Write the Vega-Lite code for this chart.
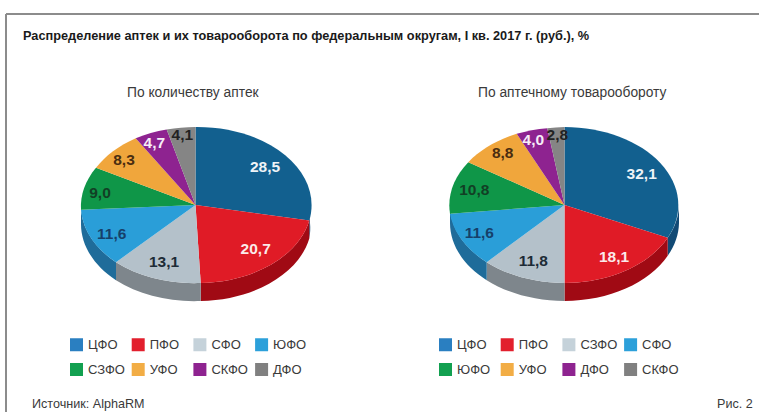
{
  "$schema": "https://vega.github.io/schema/vega-lite/v6.json",
  "width": 759,
  "height": 412,
  "padding": 0,
  "autosize": {"type": "fit", "contains": "padding"},
  "background": "#ffffff",
  "config": {
    "view": {"stroke": null},
    "font": "Liberation Sans",
    "locale": {"number": {"decimal": ",", "thousands": " ", "grouping": [3], "currency": ["", " ₽"]}},
    "legend": {"orient": "none", "title": null, "columns": 4, "direction": "horizontal", "gridAlign": "all", "symbolType": "square", "symbolSize": 169, "symbolStrokeWidth": 0, "symbolOpacity": 1, "labelFont": "Liberation Sans", "labelFontSize": 13, "labelColor": "#3a3a3a", "labelOffset": 5, "columnPadding": 6.7, "rowPadding": 11, "padding": 0, "labelLimit": 60}
  },
  "datasets": {
    "shares": [
      {"panel": "По количеству аптек", "n": 1, "district": "ЦФО", "share": 28.5},
      {"panel": "По количеству аптек", "n": 2, "district": "ПФО", "share": 20.7},
      {"panel": "По количеству аптек", "n": 3, "district": "СФО", "share": 13.1},
      {"panel": "По количеству аптек", "n": 4, "district": "ЮФО", "share": 11.6},
      {"panel": "По количеству аптек", "n": 5, "district": "СЗФО", "share": 9.0},
      {"panel": "По количеству аптек", "n": 6, "district": "УФО", "share": 8.3},
      {"panel": "По количеству аптек", "n": 7, "district": "СКФО", "share": 4.7},
      {"panel": "По количеству аптек", "n": 8, "district": "ДФО", "share": 4.1},
      {"panel": "По аптечному товарообороту", "n": 9, "district": "ЦФО", "share": 32.1},
      {"panel": "По аптечному товарообороту", "n": 10, "district": "ПФО", "share": 18.1},
      {"panel": "По аптечному товарообороту", "n": 11, "district": "СЗФО", "share": 11.8},
      {"panel": "По аптечному товарообороту", "n": 12, "district": "СФО", "share": 11.6},
      {"panel": "По аптечному товарообороту", "n": 13, "district": "ЮФО", "share": 10.8},
      {"panel": "По аптечному товарообороту", "n": 14, "district": "УФО", "share": 8.8},
      {"panel": "По аптечному товарообороту", "n": 15, "district": "ДФО", "share": 4.0},
      {"panel": "По аптечному товарообороту", "n": 16, "district": "СКФО", "share": 2.8}
    ],
    "notes": [
      {"n": 1, "text": "Распределение аптек и их товарооборота по федеральным округам, I кв. 2017 г. (руб.), %"},
      {"n": 2, "text": "По количеству аптек"},
      {"n": 3, "text": "По аптечному товарообороту"},
      {"n": 4, "text": "Источник: AlphaRM"},
      {"n": 5, "text": "Рис. 2"}
    ]
  },
  "resolve": {"scale": {"x": "independent", "y": "independent", "color": "independent", "shape": "independent", "size": "independent"}},
  "layer": [
    {
      "data": {"values": [{"edge": "top"}]},
      "mark": {"type": "rule", "stroke": "#8c8c8c", "strokeWidth": 2},
      "encoding": {
        "x": {"datum": 6, "type": "quantitative", "axis": null, "scale": {"domain": [0, 759], "range": [0, 759]}},
        "x2": {"datum": 759},
        "y": {"datum": 14, "type": "quantitative", "axis": null, "scale": {"domain": [0, 412], "range": [0, 412]}}
      }
    },
    {
      "data": {"values": [{"edge": "left"}]},
      "mark": {"type": "rule", "stroke": "#8c8c8c", "strokeWidth": 2},
      "encoding": {
        "x": {"datum": 6, "type": "quantitative", "axis": null, "scale": {"domain": [0, 759], "range": [0, 759]}},
        "y": {"datum": 14, "type": "quantitative", "axis": null, "scale": {"domain": [0, 412], "range": [0, 412]}},
        "y2": {"datum": 412}
      }
    },
    {
      "data": {"name": "notes"},
      "transform": [{"filter": "datum.n === 1"}],
      "mark": {"type": "text", "align": "left", "baseline": "middle", "fontWeight": "bold", "fontSize": 12.75, "color": "#1a1a1a"},
      "encoding": {
        "x": {"field": "n", "type": "quantitative", "axis": null, "scale": {"domain": [0, 1], "range": [0, 23]}},
        "y": {"field": "n", "type": "quantitative", "axis": null, "scale": {"domain": [0, 1], "range": [0, 36]}},
        "text": {"field": "text"}
      }
    },
    {
      "data": {"name": "notes"},
      "transform": [{"filter": "datum.n === 2 || datum.n === 3"}],
      "mark": {"type": "text", "align": "left", "baseline": "middle", "fontSize": 13.8, "color": "#3a3a3a"},
      "encoding": {
        "x": {"field": "n", "type": "quantitative", "axis": null, "scale": {"domain": [2, 3], "range": [127, 478]}},
        "y": {"field": "n", "type": "quantitative", "axis": null, "scale": {"domain": [2, 3], "range": [93, 93]}},
        "text": {"field": "text"}
      }
    },
    {
      "data": {"name": "notes"},
      "transform": [{"filter": "datum.n > 3"}],
      "mark": {"type": "text", "align": "left", "baseline": "middle", "fontSize": 12.6, "color": "#3a3a3a"},
      "encoding": {
        "x": {"field": "n", "type": "quantitative", "axis": null, "scale": {"domain": [4, 5], "range": [32, 717]}},
        "y": {"field": "n", "type": "quantitative", "axis": null, "scale": {"domain": [4, 5], "range": [404, 404]}},
        "text": {"field": "text"}
      }
    },
    {
      "data": {"name": "shares"},
      "transform": [{"filter": {"field": "n", "oneOf": [1, 2, 3, 4, 9, 10, 11, 12]}}],
      "mark": {"type": "point", "filled": true, "size": 4, "opacity": 1},
      "encoding": {
        "x": {"field": "panel", "type": "nominal", "axis": null, "scale": {"type": "point", "padding": 0, "domain": ["По количеству аптек", "По аптечному товарообороту"], "range": [195.5, 564.5]}},
        "y": {"field": "panel", "type": "nominal", "axis": null, "scale": {"type": "point", "padding": 0, "domain": ["По количеству аптек", "По аптечному товарообороту"], "range": [205, 205]}},
        "color": {"field": "n", "type": "nominal", "legend": null, "scale": {"domain": [1, 2, 3, 4, 9, 10, 11, 12], "range": ["#124a75", "#a00a14", "#7e868c", "#1f6c9a", "#124a75", "#a00a14", "#7e868c", "#1f6c9a"]}},
        "shape": {"field": "n", "type": "nominal", "legend": null, "scale": {"domain": [1, 2, 3, 4, 9, 10, 11, 12], "range": [
          "M114.5,0A114.5,78 0 0 1 113.8,15.5L113.8,33.5A114.5,78 0 0 0 114.5,18Z",
          "M113.8,15.5A114.5,78 0 0 1 5.2,78L5.2,96A114.5,78 0 0 0 113.8,33.5Z",
          "M5.2,78A114.5,78 0 0 1 -79.5,57.2L-79.5,75.2A114.5,78 0 0 0 5.2,96Z",
          "M-79.5,57.2A114.5,78 0 0 1 -114.5,0L-114.5,18A114.5,78 0 0 0 -79.5,75.2Z",
          "M114.5,0A114.5,78 0 0 1 103.2,32.8L103.2,50.8A114.5,78 0 0 0 114.5,18Z",
          "M103.2,32.8A114.5,78 0 0 1 0,78L0,96A114.5,78 0 0 0 103.2,50.8Z",
          "M0,78A114.5,78 0 0 1 -77.8,57.2L-77.8,75.2A114.5,78 0 0 0 0,96Z",
          "M-77.8,57.2A114.5,78 0 0 1 -114.5,0L-114.5,18A114.5,78 0 0 0 -77.8,75.2Z"
        ]}}
      }
    },
    {
      "data": {"name": "shares"},
      "mark": {"type": "point", "filled": true, "size": 4, "opacity": 1},
      "encoding": {
        "x": {"field": "panel", "type": "nominal", "axis": null, "scale": {"type": "point", "padding": 0, "domain": ["По количеству аптек", "По аптечному товарообороту"], "range": [195.5, 564.5]}},
        "y": {"field": "panel", "type": "nominal", "axis": null, "scale": {"type": "point", "padding": 0, "domain": ["По количеству аптек", "По аптечному товарообороту"], "range": [205, 205]}},
        "color": {"field": "n", "type": "nominal", "legend": null, "scale": {"domain": [1, 2, 3, 4, 5, 6, 7, 8, 9, 10, 11, 12, 13, 14, 15, 16], "range": ["#12608f", "#e01b26", "#b4c1ca", "#2a9ed8", "#0f9648", "#f0a63c", "#8e2390", "#858585", "#12608f", "#e01b26", "#b4c1ca", "#2a9ed8", "#0f9648", "#f0a63c", "#8e2390", "#858585"]}},
        "shape": {"field": "n", "type": "nominal", "legend": null, "scale": {"domain": [1, 2, 3, 4, 5, 6, 7, 8, 9, 10, 11, 12, 13, 14, 15, 16], "range": [
          "M0,0L0,-78A114.5,78 0 0 1 113.8,15.5Z",
          "M0,0L113.8,15.5A114.5,78 0 0 1 5.2,78Z",
          "M0,0L5.2,78A114.5,78 0 0 1 -79.5,57.2Z",
          "M0,0L-79.5,57.2A114.5,78 0 0 1 -114.5,4.8Z",
          "M0,0L-114.5,4.8A114.5,78 0 0 1 -99.5,-37.2Z",
          "M0,0L-99.5,-37.2A114.5,78 0 0 1 -59.8,-66.8Z",
          "M0,0L-59.8,-66.8A114.5,78 0 0 1 -28.8,-75.5Z",
          "M0,0L-28.8,-75.5A114.5,78 0 0 1 0,-78Z",
          "M0,0L0,-78A114.5,78 0 0 1 103.2,32.8Z",
          "M0,0L103.2,32.8A114.5,78 0 0 1 0,78Z",
          "M0,0L0,78A114.5,78 0 0 1 -77.8,57.2Z",
          "M0,0L-77.8,57.2A114.5,78 0 0 1 -114.5,8.8Z",
          "M0,0L-114.5,8.8A114.5,78 0 0 1 -96.2,-42.8Z",
          "M0,0L-96.2,-42.8A114.5,78 0 0 1 -47.8,-71.2Z",
          "M0,0L-47.8,-71.2A114.5,78 0 0 1 -17.2,-76.8Z",
          "M0,0L-17.2,-76.8A114.5,78 0 0 1 0,-78Z"
        ]}}
      }
    },
    {
      "data": {"name": "shares"},
      "mark": {"type": "text", "fontWeight": "bold", "fontSize": 15.5, "align": "center", "baseline": "middle"},
      "encoding": {
        "x": {"field": "n", "type": "quantitative", "axis": null, "scale": {"domain": [1, 2, 3, 4, 5, 6, 7, 8, 9, 10, 11, 12, 13, 14, 15, 16], "range": [265, 255.7, 164, 111.7, 100, 124, 154.3, 182.3, 641.7, 614, 533.3, 479.3, 474.3, 502.7, 533.3, 557.3]}},
        "y": {"field": "n", "type": "quantitative", "axis": null, "scale": {"domain": [1, 2, 3, 4, 5, 6, 7, 8, 9, 10, 11, 12, 13, 14, 15, 16], "range": [166.7, 249.3, 261.7, 234, 193.3, 160, 143.3, 135, 174.3, 257.3, 261, 232.7, 190, 152.7, 140, 135]}},
        "color": {"field": "n", "type": "nominal", "legend": null, "scale": {"domain": [1, 2, 3, 4, 5, 6, 7, 8, 9, 10, 11, 12, 13, 14, 15, 16], "range": ["#eef3f7", "#fbeaea", "#1d2b36", "#16406a", "#123f25", "#4a2d10", "#f7eef7", "#222222", "#eef3f7", "#fbeaea", "#1d2b36", "#16406a", "#123f25", "#4a2d10", "#f7eef7", "#222222"]}},
        "text": {"field": "share", "type": "quantitative", "format": ".1f"}
      }
    },
    {
      "data": {"name": "shares"},
      "transform": [{"filter": "datum.n <= 8"}],
      "mark": {"type": "point", "filled": true, "size": 0},
      "encoding": {
        "color": {"field": "district", "type": "nominal", "sort": null, "scale": {"domain": ["ЦФО", "ПФО", "СФО", "ЮФО", "СЗФО", "УФО", "СКФО", "ДФО"], "range": ["#2a7fc1", "#e21f2d", "#c5d2da", "#2ca0da", "#12a050", "#f2ad45", "#8e2390", "#808080"]}, "legend": {"legendX": 70, "legendY": 338}}
      }
    },
    {
      "data": {"name": "shares"},
      "transform": [{"filter": "datum.n > 8"}],
      "mark": {"type": "point", "filled": true, "size": 0},
      "encoding": {
        "color": {"field": "district", "type": "nominal", "sort": null, "scale": {"domain": ["ЦФО", "ПФО", "СЗФО", "СФО", "ЮФО", "УФО", "ДФО", "СКФО"], "range": ["#2a7fc1", "#e21f2d", "#c5d2da", "#2ca0da", "#12a050", "#f2ad45", "#8e2390", "#808080"]}, "legend": {"legendX": 439, "legendY": 338}}
      }
    }
  ]
}
